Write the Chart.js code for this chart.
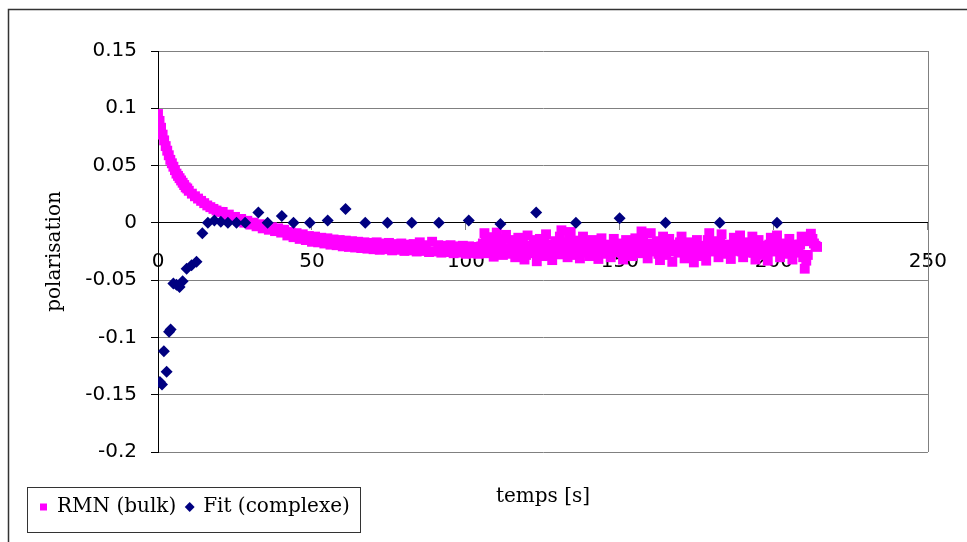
<!DOCTYPE html>
<html>
<head>
<meta charset="utf-8">
<script src="https://cdn.jsdelivr.net/npm/chart.js@4.4.0/dist/chart.umd.min.js"></script>
<style>
  html, body { margin: 0; padding: 0; background: #fff; }
  #wrap { width: 967px; height: 542px; position: relative; }
</style>
</head>
<body>
<div id="wrap"><canvas id="polarChart"></canvas></div>
<script>
// temps [s] / polarisation
const rmnTime = [
  0, 0.5, 1, 1.5, 2, 2.5, 3, 3.5, 4, 4.5, 5, 5.5, 6, 6.5, 7, 7.5, 8, 8.5, 9, 9.5, 10,
  11, 12, 13, 14, 15, 16, 17, 18, 19, 20,
  21, 22, 23, 24, 25, 26, 27, 28, 29, 30,
  31, 32, 33, 34, 35, 36, 37, 38, 39, 40,
  41, 42, 43, 44, 45, 46, 47, 48, 49, 50,
  51, 52, 53, 54, 55, 56, 57, 58, 59, 60,
  61, 62, 63, 64, 65, 66, 67, 68, 69, 70,
  71, 72, 73, 74, 75, 76, 77, 78, 79, 80,
  81, 82, 83, 84, 85, 86, 87, 88, 89, 90,
  91, 92, 93, 94, 95, 96, 97, 98, 99, 100,
  101, 102, 103, 104, 105, 106, 107, 108, 109, 110,
  111, 112, 113, 114, 115, 116, 117, 118, 119, 120,
  121, 122, 123, 124, 125, 126, 127, 128, 129, 130,
  131, 132, 133, 134, 135, 136, 137, 138, 139, 140,
  141, 142, 143, 144, 145, 146, 147, 148, 149, 150,
  151, 152, 153, 154, 155, 156, 157, 158, 159, 160,
  161, 162, 163, 164, 165, 166, 167, 168, 169, 170,
  171, 172, 173, 174, 175, 176, 177, 178, 179, 180,
  181, 182, 183, 184, 185, 186, 187, 188, 189, 190,
  191, 192, 193, 194, 195, 196, 197, 198, 199, 200,
  201, 202, 203, 204, 205, 206, 207, 208, 209, 210,
  211, 212, 213, 214,
  105.5, 106.5, 107.5, 108.5, 109.5, 110.5, 111.5, 112.5, 113.5, 114.5, 115.5,
  116.5, 117.5, 118.5, 119.5, 120.5, 121.5, 122.5, 123.5, 124.5, 125.5,
  126.5, 127.5, 128.5, 129.5, 130.5, 131.5, 132.5, 133.5, 134.5, 135.5,
  136.5, 137.5, 138.5, 139.5, 140.5, 141.5, 142.5, 143.5, 144.5, 145.5,
  146.5, 147.5, 148.5, 149.5, 150.5, 151.5, 152.5, 153.5, 154.5, 155.5,
  156.5, 157.5, 158.5, 159.5, 160.5, 161.5, 162.5, 163.5, 164.5, 165.5,
  166.5, 167.5, 168.5, 169.5, 170.5, 171.5, 172.5, 173.5, 174.5, 175.5,
  176.5, 177.5, 178.5, 179.5, 180.5, 181.5, 182.5, 183.5, 184.5, 185.5,
  186.5, 187.5, 188.5, 189.5, 190.5, 191.5, 192.5, 193.5, 194.5, 195.5,
  196.5, 197.5, 198.5, 199.5, 200.5, 201.5, 202.5, 203.5, 204.5, 205.5,
  206.5, 207.5, 208.5, 209.5, 210.5, 211.5, 212.5, 213.5
];
const rmnPol = [
  0.095, 0.089, 0.083, 0.077, 0.072, 0.067, 0.063, 0.059, 0.055, 0.052, 0.049,
  0.046, 0.043, 0.041, 0.039, 0.037, 0.035, 0.033, 0.031, 0.030, 0.028,
  0.0255, 0.0232, 0.0212, 0.0192, 0.0172, 0.0152, 0.0137, 0.0122, 0.0108, 0.0096,
  0.0095, 0.0065, 0.0072, 0.0040, 0.0052, 0.0020, 0.0034, 0.0002, 0.0018, -0.0015,
  0.0002, -0.0030, -0.0012, -0.0048, -0.0025, -0.0060, -0.0038, -0.0072, -0.0048, -0.0085,
  -0.0060, -0.0110, -0.0080, -0.0125, -0.0090, -0.0140, -0.0100, -0.0150, -0.0115, -0.0165,
  -0.0120, -0.0170, -0.0130, -0.0180, -0.0135, -0.0190, -0.0145, -0.0195, -0.0150, -0.0205,
  -0.0155, -0.0210, -0.0160, -0.0215, -0.0165, -0.0220, -0.0170, -0.0225, -0.0175, -0.0230,
  -0.0170, -0.0235, -0.0180, -0.0230, -0.0175, -0.0240, -0.0185, -0.0235, -0.0180, -0.0245,
  -0.0190, -0.0240, -0.0185, -0.0250, -0.0170, -0.0245, -0.0195, -0.0255, -0.0165, -0.0250,
  -0.0195, -0.0260, -0.0200, -0.0255, -0.0195, -0.0265, -0.0205, -0.0260, -0.0200, -0.0270,
  -0.0205, -0.0265, -0.0210, -0.0270, -0.0205, -0.0090, -0.0265, -0.0125, -0.0295, -0.0085,
  -0.0215, -0.0280, -0.0105, -0.0250, -0.0175, -0.0300, -0.0130, -0.0230, -0.0320, -0.0110,
  -0.0265, -0.0185, -0.0335, -0.0140, -0.0290, -0.0100, -0.0235, -0.0325, -0.0160, -0.0275,
  -0.0065, -0.0210, -0.0300, -0.0080, -0.0250, -0.0155, -0.0310, -0.0120, -0.0240, -0.0290,
  -0.0150, -0.0220, -0.0315, -0.0135, -0.0270, -0.0190, -0.0300, -0.0140, -0.0255, -0.0180,
  -0.0320, -0.0150, -0.0230, -0.0290, -0.0135, -0.0265, -0.0075, -0.0200, -0.0310, -0.0090,
  -0.0250, -0.0160, -0.0325, -0.0120, -0.0280, -0.0140, -0.0340, -0.0190, -0.0260, -0.0120,
  -0.0310, -0.0170, -0.0240, -0.0345, -0.0150, -0.0290, -0.0200, -0.0330, -0.0090, -0.0250,
  -0.0160, -0.0300, -0.0100, -0.0270, -0.0190, -0.0315, -0.0130, -0.0245, -0.0110, -0.0300,
  -0.0170, -0.0260, -0.0120, -0.0320, -0.0150, -0.0280, -0.0200, -0.0330, -0.0130, -0.0250,
  -0.0110, -0.0300, -0.0180, -0.0270, -0.0140, -0.0320, -0.0190, -0.0260, -0.0120, -0.0400,
  -0.0280, -0.0095, -0.0180, -0.0210,
  -0.0180, -0.0140, -0.0200, -0.0230, -0.0160, -0.0250, -0.0190, -0.0140, -0.0220, -0.0270, -0.0150,
  -0.0210, -0.0260, -0.0170, -0.0280, -0.0200, -0.0230, -0.0150, -0.0260, -0.0210, -0.0180,
  -0.0280, -0.0190, -0.0220, -0.0250, -0.0120, -0.0170, -0.0230, -0.0140, -0.0200, -0.0280,
  -0.0220, -0.0190, -0.0260, -0.0180, -0.0220, -0.0250, -0.0190, -0.0230, -0.0200, -0.0240,
  -0.0230, -0.0210, -0.0190, -0.0220, -0.0260, -0.0200, -0.0270, -0.0180, -0.0220, -0.0200,
  -0.0170, -0.0130, -0.0250, -0.0200, -0.0180, -0.0210, -0.0270, -0.0200, -0.0220, -0.0190,
  -0.0250, -0.0230, -0.0210, -0.0170, -0.0230, -0.0260, -0.0210, -0.0280, -0.0200, -0.0220,
  -0.0240, -0.0260, -0.0150, -0.0200, -0.0220, -0.0230, -0.0170, -0.0200, -0.0230, -0.0250,
  -0.0220, -0.0190, -0.0170, -0.0250, -0.0230, -0.0210, -0.0190, -0.0260, -0.0220, -0.0200,
  -0.0240, -0.0250, -0.0190, -0.0210, -0.0180, -0.0240, -0.0230, -0.0220, -0.0200, -0.0250,
  -0.0250, -0.0220, -0.0190, -0.0300, -0.0330, -0.0160, -0.0140, -0.0200
];
const fitTime = [
  0.6, 1.3, 1.9, 2.8, 3.6, 4.1, 5, 6, 7, 8, 9.3, 10.9, 12.5,
  14.4, 16.2, 18.3, 20.4, 22.7, 25.5, 28.3, 32.6, 35.6, 40.2, 44, 49.3,
  55.1, 60.9, 67.3, 74.5, 82.4, 91.2, 100.9, 111.2, 122.8, 135.7, 149.9,
  164.8, 182.4, 201
];
const fitPol = [
  -0.139, -0.141, -0.112, -0.130, -0.095, -0.093, -0.053, -0.054, -0.056, -0.051, -0.040, -0.037, -0.034,
  -0.009, 0.000, 0.002, 0.001, 0.000, 0.000, 0.000, 0.009, 0.000, 0.006, 0.000, 0.000,
  0.002, 0.012, 0.000, 0.000, 0.000, 0.000, 0.002, -0.001, 0.009, 0.000, 0.004,
  0.000, 0.000, 0.000
];
const seriesNames = ["RMN (bulk)", "Fit (complexe)"];
const xTicks = [0, 50, 100, 150, 200, 250];
const yTicks = [-0.2, -0.15, -0.1, -0.05, 0, 0.05, 0.1, 0.15];

const tickFont = { family: "DejaVu Sans", size: 20 };
const textFont = { family: "DejaVu Serif", size: 20, weight: "normal" };

// outer frame, right edge of the plot, box round the legend
const decor = {
  id: "decor",
  beforeDraw(chart) {
    const ctx = chart.ctx;
    ctx.save();
    ctx.strokeStyle = "#333";
    ctx.lineWidth = 1.5;
    ctx.beginPath();
    ctx.moveTo(8.5, 542);
    ctx.lineTo(8.5, 9.5);
    ctx.lineTo(967, 9.5);
    ctx.stroke();
    ctx.restore();
  },
  beforeDatasetsDraw(chart) {
    const { ctx, chartArea } = chart;
    ctx.save();
    ctx.strokeStyle = "#808080";
    ctx.lineWidth = 1;
    ctx.beginPath();
    ctx.moveTo(Math.round(chartArea.right) + 0.5, chartArea.top);
    ctx.lineTo(Math.round(chartArea.right) + 0.5, chartArea.bottom);
    ctx.stroke();
    ctx.restore();
  },
  afterDraw(chart) {
    const lg = chart.legend;
    const hb = lg.legendHitBoxes;
    if (!hb || !hb.length) return;
    let right = 0;
    hb.forEach((b) => { right = Math.max(right, b.left + b.width); });
    const left = lg.left - 3;
    const ctx = chart.ctx;
    ctx.save();
    ctx.strokeStyle = "#333";
    ctx.lineWidth = 1;
    ctx.strokeRect(Math.round(left) + 0.5, Math.round(lg.top) + 0.5, Math.round(right + 10 - left), 45);
    ctx.restore();
  }
};

new Chart(document.getElementById("polarChart"), {
  type: "scatter",
  data: {
    datasets: [
      {
        label: seriesNames[0],
        data: rmnTime.map((t, i) => ({ x: t, y: rmnPol[i] })),
        pointStyle: "rect",
        pointRadius: 7,
        borderWidth: 0,
        backgroundColor: "#FF00FF",
        borderColor: "#FF00FF",
        order: 1
      },
      {
        label: seriesNames[1],
        data: fitTime.map((t, i) => ({ x: t, y: fitPol[i] })),
        pointStyle: "rectRot",
        pointRadius: 6,
        borderWidth: 0,
        backgroundColor: "#000080",
        borderColor: "#000080",
        order: 0
      }
    ]
  },
  options: {
    responsive: true,
    maintainAspectRatio: false,
    animation: false,
    events: [],
    layout: { padding: { left: 30, right: 34, top: 51, bottom: 15 } },
    scales: {
      x: {
        type: "linear",
        position: { y: 0 },
        min: 0,
        max: 250,
        afterBuildTicks: (s) => { s.ticks = xTicks.map((v) => ({ value: v })); },
        grid: { drawOnChartArea: false, drawTicks: true, tickLength: 7, tickColor: "#808080" },
        border: { display: true, color: "#000", width: 1 },
        ticks: { font: tickFont, color: "#000", padding: 20, maxRotation: 0, autoSkip: false, callback: (v) => String(v) }
      },
      y: {
        type: "linear",
        position: "left",
        min: -0.2,
        max: 0.15,
        afterBuildTicks: (s) => { s.ticks = yTicks.map((v) => ({ value: v })); },
        afterFit: (s) => { s.width = 128; },
        grid: { color: "#808080", lineWidth: 1, drawTicks: true, tickLength: 7, tickColor: "#000" },
        border: { display: true, color: "#000", width: 1 },
        ticks: { font: tickFont, color: "#000", padding: 14, autoSkip: false, callback: (v) => String(v) },
        title: { display: true, text: "polarisation", font: textFont, color: "#000", padding: { top: 13, bottom: 0 } }
      }
    },
    plugins: {
      tooltip: { enabled: false },
      legend: {
        position: "bottom",
        align: "start",
        labels: {
          usePointStyle: true,
          boxWidth: 7,
          boxHeight: 7,
          padding: 10,
          font: textFont,
          color: "#000",
          sort: (a, b) => a.datasetIndex - b.datasetIndex
        }
      },
      title: {
        display: true,
        text: "temps [s]",
        position: "bottom",
        fullSize: false,
        weight: 500,
        font: textFont,
        color: "#000",
        padding: { top: 33, bottom: -22 }
      }
    }
  },
  plugins: [decor]
});
</script>
</body>
</html>
